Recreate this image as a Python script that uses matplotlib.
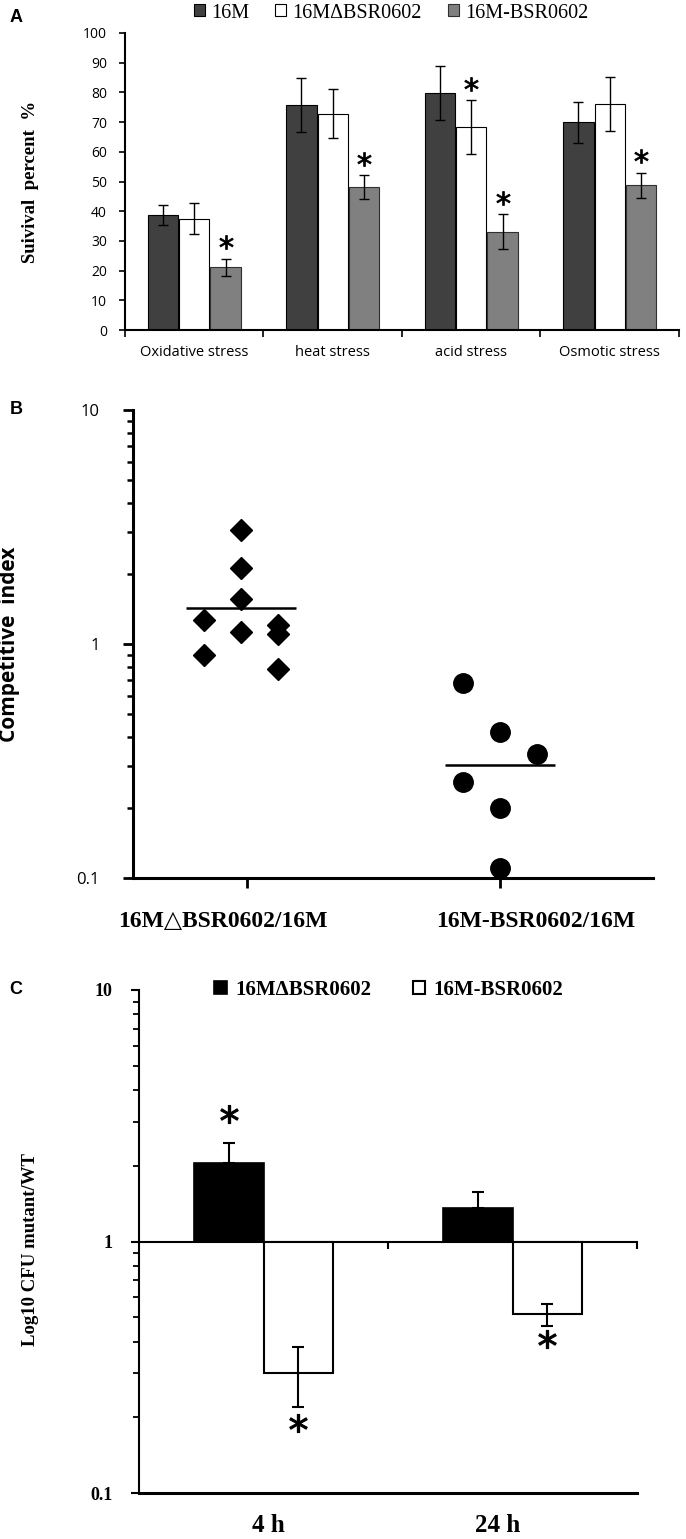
import matplotlib
matplotlib.use('Agg')
import matplotlib.pyplot as plt
import numpy as np
from matplotlib.ticker import LogLocator, NullFormatter

# ---------------- Panel A data ----------------
stress_types = ['Oxidative stress', 'heat stress', 'acid stress', 'Osmotic stress']
strains_a = ['16M', '16M\u0394BSR0602', '16M-BSR0602']
surv_16m = [38.6, 75.8, 79.8, 69.9]
err_16m = [3.4, 9.1, 9.0, 7.0]
surv_del = [37.5, 72.8, 68.3, 76.1]
err_del = [5.2, 8.2, 9.0, 9.0]
surv_comp = [21.1, 48.2, 33.1, 48.8]
err_comp = [2.9, 4.0, 5.9, 4.2]
sig_del_a = [False, False, True, False]
sig_comp_a = [True, True, True, True]

# ---------------- Panel B data ----------------
groups_b = ['16M\u25b3BSR0602/16M', '16M-BSR0602/16M']
ci_deletion = [3.08, 2.11, 1.56, 1.27, 1.12, 1.21, 1.10, 0.90, 0.78]
ci_deletion_col = [0, 0, 0, -1, 0, 1, 1, -1, 1]
ci_complement = [0.68, 0.42, 0.34, 0.256, 0.199, 0.110]
ci_complement_col = [-1, 0, 1, -1, 0, 0]
ci_means = [1.43, 0.305]

# ---------------- Panel C data ----------------
times_c = ['4 h', '24 h']
strains_c = ['16M\u0394BSR0602', '16M-BSR0602']
cfu_del = [2.06, 1.36]
cfu_del_err_up = [0.41, 0.21]
cfu_comp = [0.30, 0.513]
cfu_comp_err_low = [0.081, 0.051]
cfu_comp_err_up = [0.082, 0.051]
star_del_c = [3.2, np.nan]
star_comp_c = [0.189, 0.408]

W, H = 686, 1539
fig = plt.figure(figsize=(W / 100, H / 100), dpi=100)


def ax_at(l, t, r, b):
    return fig.add_axes([l / W, 1 - b / H, (r - l) / W, (b - t) / H])


SERIF = ['Liberation Serif', 'DejaVu Serif', 'DejaVu Sans']
SANS = ['Open Sans', 'DejaVu Sans']

# ================= Panel A =================
axA = ax_at(125, 33, 679, 330)
x = np.arange(len(stress_types))
w = 0.22
off = 0.227
ekw = dict(ecolor='black', elinewidth=1.0, capsize=3.5, capthick=1.0)
bA1 = axA.bar(x - off, surv_16m, w, yerr=err_16m, color='#404040',
              edgecolor='black', linewidth=0.8, error_kw=ekw)
bA2 = axA.bar(x, surv_del, w, yerr=err_del, color='white',
              edgecolor='black', linewidth=0.8, error_kw=ekw)
bA3 = axA.bar(x + off, surv_comp, w, yerr=err_comp, color='#808080',
              edgecolor='#303030', linewidth=0.8, error_kw=ekw)
for i in range(len(stress_types)):
    if sig_del_a[i]:
        axA.plot(x[i], surv_del[i] + err_del[i] + 5.5, marker='$*$', ms=10,
                 color='black', mew=0.6, ls='none')
    if sig_comp_a[i]:
        axA.plot(x[i] + off, surv_comp[i] + err_comp[i] + 5.5, marker='$*$',
                 ms=10, color='black', mew=0.6, ls='none')
axA.set_xlim(-0.5, 3.5)
axA.set_ylim(0, 100)
axA.set_yticks(range(0, 101, 10))
axA.set_yticklabels([str(v) for v in range(0, 101, 10)], fontfamily=SANS,
                    fontsize=10)
axA.set_xticks(x)
axA.set_xticklabels(stress_types, fontfamily=SANS, fontsize=10.5)
axA.set_xticks(np.arange(-0.5, 3.6, 1), minor=True)
axA.tick_params(axis='x', which='major', length=0, pad=11)
axA.tick_params(axis='x', which='minor', length=5, width=1.2, direction='out')
axA.tick_params(axis='y', length=4, width=1.2, pad=9, direction='out')
for s in ['top', 'right']:
    axA.spines[s].set_visible(False)
for s in ['left', 'bottom']:
    axA.spines[s].set_linewidth(1.5)
axA.set_ylabel('Suivival  percent  %', fontfamily=SERIF, fontweight='bold',
               fontsize=13.5)
axA.yaxis.set_label_coords(-0.155, 0.5)
axA.legend([bA1, bA2, bA3], strains_a, loc='center',
           bbox_to_anchor=(391 / W, 1 - 13 / H), bbox_transform=fig.transFigure,
           ncol=3, frameon=False, prop=dict(family=SERIF, size=14.5),
           handlelength=0.55, handleheight=0.55, handletextpad=0.3,
           columnspacing=1.3, borderaxespad=0)

# ================= Panel B =================
axB = ax_at(133, 410, 653, 878)
col_sp = 0.146
shift_b = [-0.025, 0.0]
pos_del = [1 + shift_b[0] + c * col_sp for c in ci_deletion_col]
pos_comp = [2 + shift_b[1] + c * col_sp for c in ci_complement_col]
axB.plot(pos_del, ci_deletion, 'D', color='black', ms=11.5, ls='none')
axB.plot(pos_comp, ci_complement, 'o', color='black', ms=14, ls='none')
half = 0.217
centers = [1 + shift_b[0], 2 + shift_b[1]]
axB.hlines(ci_means, [c - half for c in centers], [c + half for c in centers],
           color='black', lw=1.8)
axB.set_yscale('log')
axB.set_ylim(0.1, 10)
axB.set_xlim(0.549, 2.605)
axB.set_yticks([0.1, 1, 10], ['0.1', '1', '10'], fontfamily=SANS, fontsize=12)
axB.yaxis.set_minor_locator(LogLocator(base=10, subs=np.arange(2, 10)))
axB.yaxis.set_minor_formatter(NullFormatter())
axB.tick_params(axis='y', which='major', length=7, width=2, pad=17, direction='out')
axB.tick_params(axis='y', which='minor', length=4.5, width=1.8, direction='out')
axB.set_xticks([1, 2], ['', ''])
axB.tick_params(axis='x', length=7, width=2, direction='out')
for s in ['top', 'right']:
    axB.spines[s].set_visible(False)
for s in ['left', 'bottom']:
    axB.spines[s].set_linewidth(2.2)
label_x_b = [0.905, 2.142]
for lx, txt in zip(label_x_b, groups_b):
    axB.text(lx, -0.094, txt, transform=axB.get_xaxis_transform(), ha='center',
             va='center', fontfamily=SERIF, fontweight='bold', fontsize=17)
axB.set_ylabel('Competitive  index', fontfamily=SANS, fontweight='bold',
               fontsize=15)
axB.yaxis.set_label_coords(-0.217, 0.5)

# ================= Panel C =================
axC = ax_at(139, 990, 637, 1493)
xc = np.arange(len(times_c))
wc = 0.28
bC1 = axC.bar(xc - wc / 2, np.array(cfu_del) - 1, wc, bottom=1, color='black',
              edgecolor='black', linewidth=1.2)
bC2 = axC.bar(xc + wc / 2, np.array(cfu_comp) - 1, wc, bottom=1, color='white',
              edgecolor='black', linewidth=1.5)
axC.errorbar(xc - wc / 2, cfu_del, yerr=[np.zeros(len(xc)), cfu_del_err_up],
             fmt='none', ecolor='black', elinewidth=1.5, capsize=4, capthick=1.5)
axC.errorbar(xc + wc / 2, cfu_comp, yerr=[cfu_comp_err_low, cfu_comp_err_up],
             fmt='none', ecolor='black', elinewidth=1.5, capsize=4, capthick=1.5)
axC.plot(xc - wc / 2, star_del_c, marker='$*$', ms=13, color='black', mew=0.8,
         ls='none')
axC.plot(xc + wc / 2, star_comp_c, marker='$*$', ms=13, color='black', mew=0.8,
         ls='none')
axC.set_yscale('log')
axC.set_ylim(0.1, 10)
axC.set_xlim(-0.5, 1.5)
axC.set_yticks([0.1, 1, 10], ['0.1', '1', '10'], fontfamily=SERIF,
               fontweight='bold', fontsize=13)
axC.yaxis.set_minor_locator(LogLocator(base=10, subs=np.arange(2, 10)))
axC.yaxis.set_minor_formatter(NullFormatter())
axC.tick_params(axis='y', which='major', length=6, width=1.5, pad=13, direction='out')
axC.tick_params(axis='y', which='minor', length=4, width=1.3, direction='out')
axC.set_xticks([])
for s in ['top', 'right']:
    axC.spines[s].set_visible(False)
axC.spines['left'].set_linewidth(1.5)
axC.spines['bottom'].set_linewidth(2.2)
sec = axC.secondary_xaxis(0.5)
sec.set_alignment('bottom')
sec.set_xticks([0.5, 1.5])
sec.tick_params(axis='x', length=5, width=1.5, direction='out', labelbottom=False,
                labeltop=False)
for s in sec.spines.values():
    s.set_linewidth(1.5)
label_x_c = [0.02, 0.94]
for lx, txt in zip(label_x_c, times_c):
    axC.text(lx, -0.064, txt, transform=axC.get_xaxis_transform(), ha='center',
             va='center', fontfamily=SERIF, fontweight='bold', fontsize=18)
axC.set_ylabel('Log10 CFU mutant/WT', fontfamily=SERIF, fontweight='bold',
               fontsize=13.5)
axC.yaxis.set_label_coords(-0.20, 0.484)
axC.legend([bC1, bC2], strains_c, loc='center',
           bbox_to_anchor=(389 / W, 1 - 990 / H), bbox_transform=fig.transFigure,
           ncol=2, frameon=False, prop=dict(family=SERIF, weight='bold', size=15),
           handlelength=0.6, handleheight=0.6, handletextpad=0.4,
           columnspacing=2.0, borderaxespad=0)

# panel letters
for letter, yy in zip(['A', 'B', 'C'], [17, 409, 990]):
    fig.text(16 / W, 1 - yy / H, letter, fontfamily=['Liberation Sans', 'DejaVu Sans'],
             fontweight='bold', fontsize=13, ha='center', va='center')

fig.savefig('out.png', dpi=100)
